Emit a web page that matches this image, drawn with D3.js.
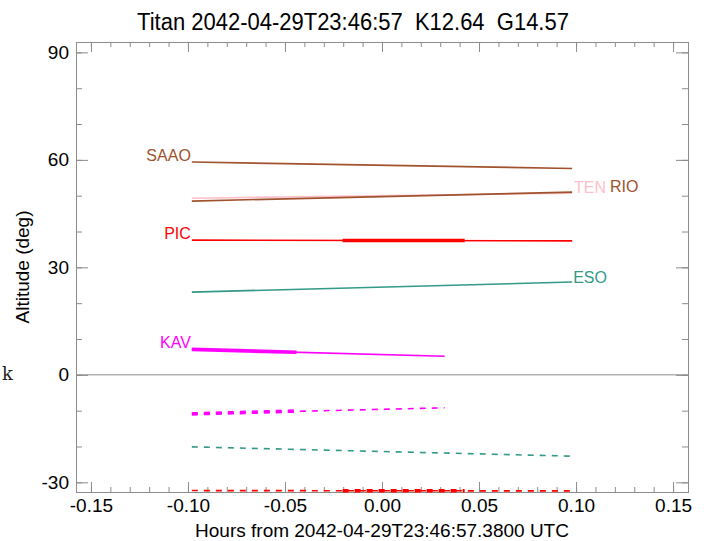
<!DOCTYPE html>
<html>
<head>
  <meta charset="UTF-8">
  <style>
    body { margin: 0; background: #fff; }
    text { font-family: "Liberation Sans", Arial, sans-serif; }
  </style>
</head>
<body>
<svg></svg>
<script src="https://d3js.org/d3.v7.min.js"></script>
<script>

let width = 706, height = 541;

// site tracks above the horizon: hours and altitude at both ends
let sites    = ["SAAO", "TEN", "RIO", "PIC", "ESO", "KAV"];
let hourFrom = [-0.098, -0.098, -0.098, -0.098, -0.098, -0.098];
let hourTo   = [0.098, 0.098, 0.098, 0.098, 0.098, 0.0323];
let altFrom  = [59.4, 49.3, 48.5, 37.6, 23.1, 7.1];
let altTo    = [57.6, 50.7, 51.0, 37.4, 25.9, 5.2];

// thick (observable) parts of the tracks
let thickSite = ["PIC", "KAV"];
let thickFrom = [-0.0203, -0.098];
let thickTo   = [0.0426, -0.0441];
let thickAltFrom = [37.5, 7.1];
let thickAltTo   = [37.5, 6.3];

// dashed tracks below the horizon
let lowSite     = ["KAV", "ESO", "PIC"];
let lowHourTo   = [0.0323, 0.098, 0.098];
let lowAltFrom  = [-10.9, -20.1, -32.3];
let lowAltTo    = [-9.2, -22.7, -32.4];
let lowThickFrom = [-0.098, null, -0.0203];
let lowThickTo   = [-0.0441, null, 0.0426];
let lowThickAltFrom = [-10.9, null, -32.35];
let lowThickAltTo   = [-10.1, null, -32.35];

let xMajor = [-0.15, -0.10, -0.05, 0.00, 0.05, 0.10, 0.15];
let yMajor = [-30, 0, 30, 60, 90];

let colors = {SAAO: "#a0522d", RIO: "#a0522d", TEN: "#ffc0cb", PIC: "#ff0000", ESO: "#339988", KAV: "#ff00ff"};
let axisColor = "#8c8c8c";

let pLeft = 76, pRight = 688, pTop = 42, pBottom = 492;

let svg = d3.select("svg")
    .attr("width", width)
    .attr("height", height)

let x = d3.scaleLinear().domain([-0.1577, 0.1577]).range([pLeft, pRight]);
let y = d3.scaleLinear().domain([-32.7, 92.9]).range([pBottom, pTop]);

let xMinor = d3.range(-15, 16).map(d => d / 100);
let yMinor = d3.range(-30, 91, 10);

// axes: bottom / top / left / right, minor then major ticks
function drawAxis(axis, tr) {
    let g = svg.append("g").attr("transform", tr).call(axis);
    g.select(".domain").attr("stroke", axisColor);
    g.selectAll(".tick line").attr("stroke", axisColor);
    g.selectAll("text").attr("fill", "#000").style("font-size", "19px")
        .style("font-family", "Liberation Sans, Arial, sans-serif");
    return g;
}

drawAxis(d3.axisBottom(x).tickValues(xMinor).tickSize(-5).tickFormat(""), `translate(0,${pBottom})`);
drawAxis(d3.axisTop(x).tickValues(xMinor).tickSize(-5).tickFormat(""), `translate(0,${pTop})`);
drawAxis(d3.axisLeft(y).tickValues(yMinor).tickSize(-6).tickFormat(""), `translate(${pLeft},0)`);
drawAxis(d3.axisRight(y).tickValues(yMinor).tickSize(-6).tickFormat(""), `translate(${pRight},0)`);

let xb = drawAxis(d3.axisBottom(x).tickValues(xMajor).tickSize(-10).tickPadding(7), `translate(0,${pBottom})`);
xb.selectAll("text").text(d => d3.format(".2f")(d).replace("−", "-"));
drawAxis(d3.axisTop(x).tickValues(xMajor).tickSize(-10).tickFormat(""), `translate(0,${pTop})`);
let yl = drawAxis(d3.axisLeft(y).tickValues(yMajor).tickSize(-12).tickPadding(7), `translate(${pLeft},0)`);
yl.selectAll("text").text(d => String(d));
drawAxis(d3.axisRight(y).tickValues(yMajor).tickSize(-12).tickFormat(""), `translate(${pRight},0)`);

// horizon line
svg.append("line")
    .attr("x1", pLeft).attr("x2", pRight)
    .attr("y1", y(0)).attr("y2", y(0))
    .attr("stroke", axisColor).attr("stroke-width", 1);

// tracks above the horizon
let tracks = svg.append("g");
sites.forEach((s, i) => {
    tracks.append("line")
        .attr("x1", x(hourFrom[i])).attr("y1", y(altFrom[i]))
        .attr("x2", x(hourTo[i])).attr("y2", y(altTo[i]))
        .attr("stroke", colors[s]).attr("stroke-width", 1.6);
});

thickSite.forEach((s, i) => {
    tracks.append("line")
        .attr("x1", x(thickFrom[i])).attr("y1", y(thickAltFrom[i]))
        .attr("x2", x(thickTo[i])).attr("y2", y(thickAltTo[i]))
        .attr("stroke", colors[s]).attr("stroke-width", 3.6);
});

// dashed tracks below
lowSite.forEach((s, i) => {
    tracks.append("line")
        .attr("x1", x(-0.098)).attr("y1", y(lowAltFrom[i]))
        .attr("x2", x(lowHourTo[i])).attr("y2", y(lowAltTo[i]))
        .attr("stroke", colors[s]).attr("stroke-width", 1.6)
        .attr("stroke-dasharray", "6,6");
    if (lowThickFrom[i] != null) {
        tracks.append("line")
            .attr("x1", x(lowThickFrom[i])).attr("y1", y(lowThickAltFrom[i]))
            .attr("x2", x(lowThickTo[i])).attr("y2", y(lowThickAltTo[i]))
            .attr("stroke", colors[s]).attr("stroke-width", 3.6)
            .attr("stroke-dasharray", "6,6");
    }
});

// site labels
["SAAO", "PIC", "KAV"].forEach(s => {
    let i = sites.indexOf(s);
    svg.append("text")
        .attr("x", x(hourFrom[i]) - 1)
        .attr("y", y(altFrom[i]) - 1)
        .attr("text-anchor", "end")
        .attr("fill", colors[s])
        .style("font-size", "16px")
        .text(s);
});
svg.append("text").attr("x", 574).attr("y", 193).attr("fill", colors.TEN).style("font-size", "16px").text("TEN");
svg.append("text").attr("x", 610).attr("y", 192).attr("fill", colors.RIO).style("font-size", "16px").text("RIO");
let eso = sites.indexOf("ESO");
svg.append("text").attr("x", x(hourTo[eso]) + 1).attr("y", y(altTo[eso]) + 1)
    .attr("fill", colors.ESO).style("font-size", "16px").text("ESO");

// titles
svg.append("text")
    .attr("transform", "translate(353,30) scale(1,1.1)")
    .attr("text-anchor", "middle")
    .attr("xml:space", "preserve")
    .style("white-space", "pre")
    .style("font-size", "22px")
    .text("Titan 2042-04-29T23:46:57  K12.64  G14.57");

svg.append("text")
    .attr("x", (pLeft + pRight) / 2).attr("y", 537)
    .attr("text-anchor", "middle")
    .style("font-size", "19px")
    .text("Hours from 2042-04-29T23:46:57.3800 UTC");

svg.append("text")
    .attr("transform", `translate(29,${(pTop + pBottom) / 2}) rotate(-90)`)
    .attr("text-anchor", "middle")
    .style("font-size", "19px")
    .text("Altitude (deg)");

svg.append("text")
    .attr("x", 2).attr("y", 380)
    .style("font-family", "DejaVu Serif, serif")
    .style("font-size", "18px")
    .attr("fill", "#222")
    .text("k");

</script>
</body>
</html>
